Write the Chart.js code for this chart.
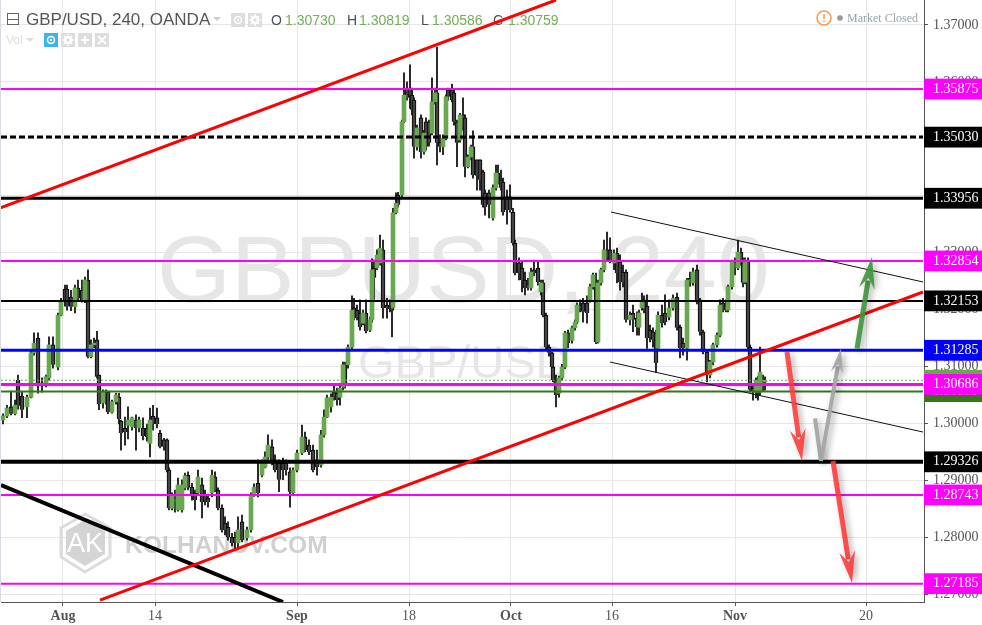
<!DOCTYPE html>
<html>
<head>
  <meta name="viewport" content="width=device-width, initial-scale=1.0">
  <title>GBP/USD 240</title>
  <script src="https://cdn.jsdelivr.net/npm/chart.js"></script>
  <style>
    html, body {
      margin: 0;
      padding: 0;
      background-color: #fff;
    }

    #wrap {
      position: relative;
      width: 982px;
      height: 625px;
    }

    canvas {
      display: block;
    }
  </style>
</head>
<body>
  <div id="wrap"><canvas id="myChart"></canvas></div>

  <script>
    // bar time position along the x axis, one value per candle
    const candleX = [
      3,7,11,15,18,22,27,31,34,38,
      42,46,49,53,58,61,65,67,71,75,
      78,82,85,88,91,94,97,99,103,106,
      108,112,116,119,121,125,128,132,136,139,
      143,147,150,153,157,160,164,167,169,172,
      175,178,182,185,188,192,195,198,202,205,
      208,212,215,218,222,225,228,232,235,238,
      242,247,251,254,258,262,265,268,272,275,
      279,283,286,290,293,297,302,305,309,313,
      317,321,324,327,331,334,337,340,343,345,
      348,352,354,357,360,363,366,370,372,374,
      377,380,383,387,390,392,393,396,398,402,
      404,407,410,412,414,417,421,424,426,429,
      432,435,437,440,443,446,448,452,454,457,
      460,463,465,468,471,473,477,480,483,485,
      489,493,496,498,501,503,507,510,513,515,
      519,522,525,528,531,534,538,541,543,546,
      549,552,553,556,559,562,565,568,572,575,
      577,580,583,587,590,593,596,598,601,604,
      607,610,614,617,620,623,626,630,633,637,
      639,642,644,647,650,653,656,658,662,665,
      669,673,677,680,683,687,690,693,697,700,
      703,707,710,713,717,720,723,726,728,732,
      735,738,741,743,745,748,750,753,756,758,
      760,763,765
    ];

    const opens = [
      1.3006,1.3013,1.3029,1.3017,1.3076,1.3048,1.3029,1.3046,1.3124,1.3150,
      1.3071,1.3067,1.3080,1.3138,1.3099,1.3190,1.3236,1.3236,1.3222,1.3205,
      1.3238,1.3234,1.3217,1.3252,1.3117,1.3138,1.3147,1.3085,1.3036,1.3055,
      1.3055,1.3020,1.3038,1.3046,1.3004,1.2992,1.2997,1.2994,1.3006,1.2992,
      1.2992,1.2992,1.2965,1.3013,1.3010,1.2983,1.2971,1.2971,1.2918,1.2851,
      1.2869,1.2848,1.2848,1.2887,1.2909,1.2888,1.2878,1.2878,1.2892,1.2875,
      1.2869,1.2878,1.2906,1.2883,1.2851,1.2825,1.2818,1.2800,1.2800,1.2790,
      1.2827,1.2799,1.2813,1.2874,1.2895,1.2909,1.2923,1.2941,1.2959,1.2936,
      1.2930,1.2930,1.2930,1.2915,1.2878,1.2918,1.2948,1.2976,1.2962,1.2953,
      1.2936,1.2927,1.2980,1.3011,1.3029,1.3055,1.3053,1.3046,1.3064,1.3103,
      1.3103,1.3134,1.3203,1.3199,1.3194,1.3176,1.3194,1.3164,1.3182,1.3273,
      1.3273,1.3282,1.3305,1.3208,1.3206,1.3205,1.3203,1.3370,1.3401,1.3401,
      1.3530,1.3589,1.3589,1.3577,1.3568,1.3486,1.3537,1.3477,1.3530,1.3530,
      1.3510,1.3565,1.3581,1.3494,1.3486,1.3501,1.3586,1.3586,1.3581,1.3530,
      1.3498,1.3542,1.3537,1.3451,1.3468,1.3486,1.3463,1.3463,1.3442,1.3405,
      1.3405,1.3361,1.3414,1.3440,1.3428,1.3424,1.3398,1.3398,1.3371,1.3317,
      1.3282,1.3273,1.3252,1.3245,1.3238,1.3270,1.3273,1.3231,1.3247,1.3190,
      1.3134,1.3124,1.3099,1.3076,1.3053,1.3080,1.3099,1.3159,1.3146,1.3168,
      1.3178,1.3208,1.3212,1.3212,1.3217,1.3240,1.3247,1.3143,1.3247,1.3270,
      1.3305,1.3305,1.3282,1.3299,1.3284,1.3266,1.3266,1.3182,1.3194,1.3185,
      1.3169,1.3203,1.3217,1.3206,1.3164,1.3161,1.3159,1.3132,1.3190,1.3194,
      1.3187,1.3203,1.3222,1.3169,1.3141,1.3132,1.3255,1.3247,1.3270,1.3217,
      1.3161,1.3125,1.3085,1.3108,1.3138,1.3155,1.3212,1.3208,1.3199,1.3240,
      1.3284,1.3273,1.3301,1.3282,1.3248,1.3287,1.3134,1.3062,1.3055,1.3076,
      1.3055,1.3076,1.30730
    ];

    const highs = [
      1.3017,1.3032,1.3057,1.3041,1.3085,1.3055,1.3050,1.3129,1.3159,1.3159,
      1.3080,1.3085,1.3152,1.3152,1.3194,1.3220,1.3243,1.3243,1.3234,1.3243,
      1.3252,1.3252,1.3257,1.3270,1.3147,1.3150,1.3162,1.3085,1.3059,1.3059,
      1.3057,1.3041,1.3053,1.3053,1.3006,1.3011,1.3029,1.3011,1.3015,1.3011,
      1.3010,1.2999,1.3027,1.3032,1.3027,1.2988,1.2974,1.2973,1.2922,1.2878,
      1.2883,1.2904,1.2901,1.2913,1.2915,1.2895,1.2883,1.2918,1.2904,1.2883,
      1.2876,1.2918,1.2915,1.2887,1.2857,1.2836,1.2827,1.2807,1.2809,1.2836,
      1.2839,1.2818,1.2878,1.2894,1.2936,1.2936,1.2950,1.2980,1.2971,1.2945,
      1.2936,1.2939,1.2936,1.2922,1.2922,1.2953,1.2997,1.2985,1.2971,1.2962,
      1.2953,1.2988,1.3024,1.3050,1.3052,1.3067,1.3062,1.3067,1.3108,1.3108,
      1.3138,1.3224,1.3220,1.3208,1.3217,1.3199,1.3217,1.3187,1.3289,1.3287,
      1.3305,1.3331,1.3322,1.3220,1.3217,1.3226,1.3378,1.3405,1.3406,1.3533,
      1.3616,1.3600,1.3630,1.3589,1.3572,1.3524,1.3542,1.3515,1.3537,1.3533,
      1.3607,1.3589,1.3661,1.3507,1.3507,1.3577,1.3589,1.3596,1.3586,1.3533,
      1.3545,1.3572,1.3542,1.3472,1.3489,1.3514,1.3463,1.3463,1.3445,1.3410,
      1.3410,1.3419,1.3454,1.3454,1.3445,1.3431,1.3410,1.3419,1.3378,1.3322,
      1.3291,1.3284,1.3266,1.3255,1.3273,1.3287,1.3284,1.3252,1.3252,1.3194,
      1.3138,1.3125,1.3103,1.3085,1.3083,1.3104,1.3162,1.3164,1.3171,1.3182,
      1.3212,1.3217,1.3220,1.3224,1.3245,1.3264,1.3264,1.3252,1.3273,1.3322,
      1.3336,1.3326,1.3305,1.3308,1.3296,1.3278,1.3270,1.3196,1.3208,1.3196,
      1.3199,1.3229,1.3224,1.3226,1.3173,1.3168,1.3164,1.3196,1.3208,1.3226,
      1.3217,1.3226,1.3229,1.3173,1.3150,1.3255,1.3266,1.3273,1.3278,1.3220,
      1.3164,1.3129,1.3111,1.3141,1.3159,1.3217,1.3220,1.3217,1.3243,1.3287,
      1.3291,1.3322,1.3308,1.3291,1.3291,1.3291,1.3138,1.3069,1.3080,1.3083,
      1.3134,1.3085,1.30819
    ];

    const lows = [
      1.2999,1.3010,1.3015,1.3015,1.3025,1.3010,1.3010,1.3045,1.3120,1.3053,
      1.3055,1.3064,1.3076,1.3097,1.3094,1.3189,1.3206,1.3199,1.3198,1.3194,
      1.3217,1.3213,1.3212,1.3115,1.3115,1.3133,1.3080,1.3024,1.3027,1.3034,
      1.3017,1.3018,1.3034,1.2999,1.2953,1.2962,1.2973,1.2988,1.2953,1.2985,
      1.2971,1.2969,1.2941,1.2988,1.2992,1.2957,1.2953,1.2915,1.2848,1.2848,
      1.2844,1.2846,1.2844,1.2883,1.2883,1.2865,1.2848,1.2874,1.2834,1.2857,
      1.2853,1.2871,1.2880,1.2848,1.2809,1.2804,1.2795,1.2785,1.2781,1.2781,
      1.2792,1.2795,1.2809,1.2872,1.2871,1.2906,1.2922,1.2937,1.2927,1.2915,
      1.2880,1.2901,1.2909,1.2853,1.2874,1.2915,1.2945,1.2950,1.2945,1.2915,
      1.2909,1.2923,1.2976,1.3010,1.3020,1.3041,1.3032,1.3032,1.3059,1.3062,
      1.3097,1.3131,1.3182,1.3182,1.3164,1.3173,1.3159,1.3161,1.3178,1.3217,
      1.3270,1.3278,1.3185,1.3185,1.3196,1.3152,1.3199,1.3368,1.3380,1.3398,
      1.3528,1.3568,1.3554,1.3542,1.3466,1.3480,1.3466,1.3473,1.3480,1.3487,
      1.3507,1.3561,1.3454,1.3477,1.3472,1.3498,1.3568,1.3565,1.3524,1.3451,
      1.3494,1.3515,1.3433,1.3449,1.3463,1.3431,1.3410,1.3410,1.3380,1.3366,
      1.3361,1.3357,1.3410,1.3421,1.3410,1.3366,1.3350,1.3371,1.3313,1.3261,
      1.3252,1.3231,1.3226,1.3234,1.3234,1.3259,1.3243,1.3226,1.3187,1.3129,
      1.3118,1.3094,1.3073,1.3029,1.3046,1.3076,1.3096,1.3133,1.3141,1.3164,
      1.3175,1.3196,1.3178,1.3176,1.3213,1.3236,1.3140,1.3141,1.3243,1.3266,
      1.3284,1.3282,1.3270,1.3247,1.3234,1.3240,1.3178,1.3173,1.3161,1.3155,
      1.3155,1.3199,1.3194,1.3132,1.3143,1.3134,1.3089,1.3129,1.3169,1.3173,
      1.3182,1.3199,1.3164,1.3115,1.3120,1.3111,1.3241,1.3243,1.3210,1.3155,
      1.3122,1.3073,1.3080,1.3103,1.3134,1.3152,1.3196,1.3196,1.3196,1.3236,
      1.3261,1.3270,1.3278,1.3240,1.3245,1.3131,1.3055,1.3041,1.3045,1.3041,
      1.3050,1.3057,1.30586
    ];

    const closes = [
      1.3013,1.3027,1.3017,1.3032,1.3031,1.3024,1.3046,1.3124,1.3141,1.3071,
      1.3066,1.3082,1.3138,1.3103,1.3190,1.3213,1.3213,1.3206,1.3205,1.3238,
      1.3220,1.3217,1.3252,1.3117,1.3138,1.3141,1.3082,1.3034,1.3055,1.3048,
      1.3020,1.3038,1.3050,1.3008,1.2983,1.2985,1.3006,1.3010,1.2992,1.3006,
      1.2978,1.2976,1.3006,1.2999,1.2999,1.2959,1.2959,1.2918,1.2851,1.2874,
      1.2862,1.2892,1.2892,1.2908,1.2887,1.2876,1.2865,1.2906,1.2862,1.2865,
      1.2862,1.2909,1.2883,1.2851,1.2813,1.2813,1.2800,1.2790,1.2792,1.2813,
      1.2795,1.2813,1.2874,1.2888,1.2878,1.2930,1.2941,1.2962,1.2932,1.2918,
      1.2901,1.2918,1.2918,1.2880,1.2918,1.2948,1.2976,1.2953,1.2950,1.2918,
      1.2923,1.2980,1.3011,1.3045,1.3046,1.3045,1.3041,1.3062,1.3103,1.3067,
      1.3134,1.3199,1.3185,1.3187,1.3169,1.3194,1.3162,1.3182,1.3270,1.3256,
      1.3296,1.3308,1.3203,1.3203,1.3201,1.3199,1.3370,1.3387,1.3384,1.3530,
      1.3577,1.3572,1.3577,1.3551,1.3486,1.3519,1.3477,1.3510,1.3486,1.3493,
      1.3565,1.3581,1.3493,1.3486,1.3501,1.3574,1.3574,1.3568,1.3530,1.3493,
      1.3542,1.3521,1.3451,1.3468,1.3486,1.3436,1.3435,1.3428,1.3384,1.3380,
      1.3384,1.3414,1.3440,1.3424,1.3414,1.3371,1.3375,1.3375,1.3317,1.3264,
      1.3264,1.3252,1.3238,1.3238,1.3266,1.3264,1.3248,1.3247,1.3190,1.3134,
      1.3124,1.3099,1.3076,1.3050,1.3080,1.3099,1.3159,1.3141,1.3168,1.3178,
      1.3208,1.3203,1.3196,1.3194,1.3240,1.3261,1.3143,1.3247,1.3270,1.3305,
      1.3291,1.3287,1.3299,1.3264,1.3248,1.3248,1.3182,1.3190,1.3182,1.3169,
      1.3194,1.3213,1.3199,1.3150,1.3152,1.3147,1.3106,1.3190,1.3176,1.3178,
      1.3203,1.3220,1.3168,1.3132,1.3132,1.3252,1.3247,1.3266,1.3213,1.3161,
      1.3125,1.3085,1.3108,1.3138,1.3155,1.3208,1.3199,1.3199,1.3240,1.3284,
      1.3273,1.3301,1.3282,1.3247,1.3287,1.3134,1.3059,1.3055,1.3076,1.3055,
      1.3090,1.3067,1.30759
    ];

    const xTickValues = [63, 155, 297, 409, 511, 612, 735, 866];
    const xTickLabels = ['Aug', '14', 'Sep', '18', 'Oct', '16', 'Nov', '20'];
    const monthLabels = ['Aug', 'Sep', 'Oct', 'Nov'];

    const priceTicks = [1.27, 1.28, 1.29, 1.30, 1.31, 1.32, 1.33, 1.34, 1.35, 1.36, 1.37];

    // drawn in this order, later labels cover earlier ones
    const levelValues = [1.30559, 1.30759, 1.27185, 1.28743, 1.29326, 1.31285, 1.32153, 1.32854, 1.33956, 1.35030, 1.35875, 1.30686];
    const levelColors = ['#38761d', '#6aa84f', '#ff00ff', '#ff00ff', '#000000', '#0000ff', '#000000', '#ff00ff', '#000000', '#000000', '#ff00ff', '#ff00ff'];
    const levelWidths = [2, 1, 2, 2, 4, 3, 2, 2, 3, 3, 2, 3];
    const levelDashes = [[], [2, 2], [], [], [], [], [], [], [], [6, 3], [], []];

    // trend lines: start time, start price, end time, end price
    const trendX0 = [0, 100, 1, 611, 610];
    const trendP0 = [1.33785, 1.26897, 1.28918, 1.33714, 1.31079];
    const trendX1 = [556, 923, 283, 923, 923];
    const trendP1 = [1.37439, 1.32309, 1.26863, 1.32485, 1.29849];
    const trendColors = ['#ff0000', '#ff0000', '#000000', '#111111', '#111111'];
    const trendWidths = [3, 3, 4, 1, 1];

    // hand drawn projection arrows
    const arrowX0 = [787, 821, 857, 833];
    const arrowP0 = [1.31255, 1.29340, 1.31315, 1.29340];
    const arrowX1 = [802, 841, 872, 852];
    const arrowP1 = [1.29340, 1.31315, 1.32924, 1.27196];
    const arrowColors = ['rgba(255,60,60,0.88)', 'rgba(165,165,165,0.95)', 'rgba(60,150,60,0.9)', 'rgba(255,60,60,0.9)'];
    const arrowHeadLen = [32, 24, 32, 32];

    // short grey stroke left of the grey arrow foot
    const strokeX = [815, 821];
    const strokeP = [1.30089, 1.29340];

    const ohlcLetters = ['O', 'H', 'L', 'C'];
    const ohlcValues = ['1.30730', '1.30819', '1.30586', '1.30759'];

    const upBars = [];
    const downBars = [];
    const wicks = [];
    candleX.forEach((x, i) => {
      wicks.push({ x: x, y: [lows[i], highs[i]] });
      if (closes[i] >= opens[i]) {
        upBars.push({ x: x, y: [opens[i], closes[i]] });
      } else {
        downBars.push({ x: x, y: [closes[i], opens[i]] });
      }
    });

    const levelSets = levelValues.map((v, i) => ({
      type: 'line',
      data: [{ x: 1, y: v }, { x: 923, y: v }],
      borderColor: levelColors[i],
      borderWidth: levelWidths[i],
      borderDash: levelDashes[i],
      pointRadius: 0,
      order: 1
    }));

    const trendSets = trendX0.map((x0, i) => ({
      type: 'line',
      data: [{ x: x0, y: trendP0[i] }, { x: trendX1[i], y: trendP1[i] }],
      borderColor: trendColors[i],
      borderWidth: trendWidths[i],
      pointRadius: 0,
      order: 0
    }));

    function arrowHead(ctx, tipX, tipY, ux, uy, len) {
      const nx = -uy;
      const ny = ux;
      const half = len / 4;
      ctx.beginPath();
      ctx.moveTo(tipX, tipY);
      ctx.lineTo(tipX - ux * len + nx * half, tipY - uy * len + ny * half);
      ctx.lineTo(tipX - ux * len * 0.66, tipY - uy * len * 0.66);
      ctx.lineTo(tipX - ux * len - nx * half, tipY - uy * len - ny * half);
      ctx.closePath();
      ctx.fill();
    }

    // the arrows go over everything, with the soft shadow of the original drawing tool
    const arrowsPlugin = {
      id: 'arrows',
      afterDatasetsDraw(chart) {
        const ctx = chart.ctx;
        const xs = chart.scales.x;
        const ys = chart.scales.y;
        ctx.save();
        ctx.shadowColor = 'rgba(0,0,0,0.35)';
        ctx.shadowBlur = 6;
        ctx.shadowOffsetX = 3;
        ctx.shadowOffsetY = 2;

        ctx.strokeStyle = 'rgba(165,165,165,0.95)';
        ctx.lineWidth = 4;
        ctx.beginPath();
        ctx.moveTo(xs.getPixelForValue(strokeX[0]), ys.getPixelForValue(strokeP[0]));
        ctx.lineTo(xs.getPixelForValue(strokeX[1]), ys.getPixelForValue(strokeP[1]));
        ctx.stroke();

        arrowX0.forEach((x0, i) => {
          const ax = xs.getPixelForValue(x0);
          const ay = ys.getPixelForValue(arrowP0[i]);
          const bx = xs.getPixelForValue(arrowX1[i]);
          const by = ys.getPixelForValue(arrowP1[i]);
          const len = Math.hypot(bx - ax, by - ay);
          const ux = (bx - ax) / len;
          const uy = (by - ay) / len;
          ctx.strokeStyle = arrowColors[i];
          ctx.fillStyle = arrowColors[i];
          ctx.lineWidth = i === 1 ? 4 : 5;
          ctx.beginPath();
          ctx.moveTo(ax, ay);
          ctx.lineTo(bx - ux * arrowHeadLen[i] * 0.75, by - uy * arrowHeadLen[i] * 0.75);
          ctx.stroke();
          arrowHead(ctx, bx, by, ux, uy, arrowHeadLen[i]);
        });
        ctx.restore();
      }
    };

    function iconBox(ctx, x, y, w, color) {
      ctx.fillStyle = color;
      ctx.fillRect(x, y, w, w);
    }

    function eye(ctx, cx, cy) {
      ctx.strokeStyle = '#fff';
      ctx.lineWidth = 1.5;
      ctx.beginPath();
      ctx.arc(cx, cy, 3.5, 0, Math.PI * 2);
      ctx.stroke();
      ctx.fillStyle = '#fff';
      ctx.beginPath();
      ctx.arc(cx, cy, 1.2, 0, Math.PI * 2);
      ctx.fill();
    }

    function gear(ctx, cx, cy) {
      ctx.fillStyle = '#fff';
      ctx.beginPath();
      ctx.arc(cx, cy, 4.2, 0, Math.PI * 2);
      ctx.fill();
      ctx.strokeStyle = '#fff';
      ctx.lineWidth = 1.4;
      for (let a = 0; a < 4; a++) {
        const c = Math.cos(a * Math.PI / 4) * 5.8;
        const s = Math.sin(a * Math.PI / 4) * 5.8;
        ctx.beginPath();
        ctx.moveTo(cx - c, cy - s);
        ctx.lineTo(cx + c, cy + s);
        ctx.stroke();
      }
      ctx.fillStyle = '#ddd';
      ctx.beginPath();
      ctx.arc(cx, cy, 1.8, 0, Math.PI * 2);
      ctx.fill();
    }

    function caret(ctx, x, y, color) {
      ctx.fillStyle = color;
      ctx.beginPath();
      ctx.moveTo(x, y);
      ctx.lineTo(x + 8, y);
      ctx.lineTo(x + 4, y + 4);
      ctx.closePath();
      ctx.fill();
    }

    // watermarks and the header all sit under the candles and lines
    const backdropPlugin = {
      id: 'backdrop',
      beforeDatasetsDraw(chart) {
        const ctx = chart.ctx;
        ctx.save();
        ctx.textBaseline = 'alphabetic';
        ctx.textAlign = 'left';
        ctx.fillStyle = '#e6e6e6';
        ctx.font = '95px "Liberation Sans"';
        ctx.fillText('GBPUSD, 240', 157, 302);
        ctx.font = '47px "Liberation Sans"';
        ctx.fillText('GBP/USD', 358, 378);

        ctx.fillStyle = '#d0d0d0';
        ctx.font = 'bold 24.6px "Liberation Sans"';
        ctx.fillText('KOLHANOV.COM', 125, 553);

        const hex = [[85, 514], [110, 528], [110, 557], [85, 572], [61, 557], [61, 528]];
        ctx.strokeStyle = '#dcdcdc';
        ctx.lineWidth = 3;
        ctx.beginPath();
        hex.forEach((p, i) => (i ? ctx.lineTo(p[0], p[1]) : ctx.moveTo(p[0], p[1])));
        ctx.closePath();
        ctx.stroke();
        ctx.fillStyle = '#d4d4d4';
        ctx.beginPath();
        const inner = [[85, 520], [105, 531], [105, 554], [85, 566], [66, 554], [66, 531]];
        inner.forEach((p, i) => (i ? ctx.lineTo(p[0], p[1]) : ctx.moveTo(p[0], p[1])));
        ctx.closePath();
        ctx.fill();
        ctx.fillStyle = '#fff';
        ctx.font = '27px "Liberation Sans"';
        ctx.textAlign = 'center';
        ctx.fillText('AK', 85, 552);
        ctx.textAlign = 'left';

        ctx.fillStyle = '#d6dce5';
        ctx.fillRect(0, 0, 1, 602);

        // collapse box + title
        ctx.strokeStyle = '#666';
        ctx.lineWidth = 1;
        ctx.strokeRect(7.5, 13.5, 11, 11);
        ctx.beginPath();
        ctx.moveTo(7.5, 19.5);
        ctx.lineTo(18.5, 19.5);
        ctx.stroke();

        ctx.fillStyle = '#555';
        ctx.font = '17px "Liberation Sans"';
        ctx.fillText('GBP/USD, 240, OANDA', 26, 25);
        caret(ctx, 213, 17, '#ccc');
        iconBox(ctx, 231, 13, 14, '#ddd');
        eye(ctx, 238, 20);
        iconBox(ctx, 248, 13, 14, '#ddd');
        gear(ctx, 255, 20);

        const letterX = [271, 347, 421, 493];
        const valueX = [285, 359, 432, 508];
        ctx.font = '14px "Liberation Sans"';
        ohlcLetters.forEach((l, i) => {
          ctx.fillStyle = '#4a5060';
          ctx.fillText(l, letterX[i], 25);
          ctx.fillStyle = '#74ad5a';
          ctx.fillText(ohlcValues[i], valueX[i], 25);
        });

        // volume row
        ctx.fillStyle = '#ddd';
        ctx.font = '12px "Liberation Sans"';
        ctx.fillText('Vol', 6, 44);
        caret(ctx, 26, 38, '#ddd');
        iconBox(ctx, 44, 33, 14, '#3db4e8');
        eye(ctx, 51, 40);
        iconBox(ctx, 61, 33, 14, '#ddd');
        gear(ctx, 68, 40);
        iconBox(ctx, 78, 33, 14, '#ddd');
        iconBox(ctx, 95, 33, 14, '#ddd');
        ctx.strokeStyle = '#fff';
        ctx.lineWidth = 2;
        ctx.beginPath();
        ctx.moveTo(85, 36); ctx.lineTo(85, 44);
        ctx.moveTo(81, 40); ctx.lineTo(89, 40);
        ctx.moveTo(98, 36); ctx.lineTo(106, 44);
        ctx.moveTo(106, 36); ctx.lineTo(98, 44);
        ctx.stroke();

        // market closed badge
        ctx.strokeStyle = '#ff9a4d';
        ctx.lineWidth = 1.5;
        ctx.beginPath();
        ctx.arc(824, 18, 7, 0, Math.PI * 2);
        ctx.stroke();
        ctx.fillStyle = '#ff9a4d';
        ctx.fillRect(823.3, 14, 1.5, 5);
        ctx.fillRect(823.3, 20.5, 1.5, 1.5);
        ctx.fillStyle = '#999';
        ctx.beginPath();
        ctx.arc(840, 18, 2.8, 0, Math.PI * 2);
        ctx.fill();
        ctx.fillStyle = '#9aa3b0';
        ctx.font = '12px "Liberation Serif"';
        ctx.fillText('Market Closed', 847, 22);
        ctx.restore();
      }
    };

    function isLevel(c) {
      return !!c.tick && levelValues.includes(c.tick.value);
    }

    const ctx = document.getElementById('myChart').getContext('2d');
    const chart = new Chart(ctx, {
      type: 'bar',
      data: {
        datasets: trendSets.concat(levelSets, [
          {
            label: 'up',
            data: upBars,
            backgroundColor: '#6aa84f',
            borderWidth: 0,
            barThickness: 4,
            grouped: false,
            order: 2
          },
          {
            label: 'down',
            data: downBars,
            backgroundColor: '#444',
            borderColor: '#000',
            borderWidth: 1,
            barThickness: 4,
            grouped: false,
            order: 3
          },
          {
            label: 'wick',
            data: wicks,
            backgroundColor: '#000',
            borderWidth: 0,
            barThickness: 1,
            grouped: false,
            order: 4
          }
        ])
      },
      options: {
        responsive: true,
        maintainAspectRatio: false,
        animation: false,
        layout: { padding: { left: 1 } },
        plugins: {
          legend: { display: false },
          tooltip: { enabled: false }
        },
        scales: {
          x: {
            type: 'linear',
            offset: false,
            min: 1,
            max: 924,
            afterBuildTicks(scale) {
              scale.ticks = xTickValues.map(v => ({ value: v }));
            },
            afterFit(scale) {
              scale.height = 23;
              scale.paddingLeft = 0;
              scale.paddingRight = 0;
            },
            grid: {
              offset: false,
              color: '#e6e6e6',
              tickColor: '#555',
              tickLength: 4
            },
            border: { color: '#555' },
            ticks: {
              autoSkip: false,
              maxRotation: 0,
              padding: 2,
              color: '#555',
              font(c) {
                const label = c.tick ? xTickLabels[xTickValues.indexOf(c.tick.value)] : '';
                return { family: '"Liberation Serif"', size: 14, weight: monthLabels.includes(label) ? 'bold' : 'normal' };
              },
              callback(value) {
                return xTickLabels[xTickValues.indexOf(value)];
              }
            }
          },
          y: {
            position: 'right',
            min: 1.26863,
            max: 1.37439,
            afterBuildTicks(scale) {
              scale.ticks = priceTicks.concat(levelValues).map(v => ({ value: v }));
            },
            afterFit(scale) {
              scale.width = 58;
              scale.paddingTop = 0;
              scale.paddingBottom = 0;
            },
            grid: {
              color(c) {
                return isLevel(c) ? 'rgba(0,0,0,0)' : '#e6e6e6';
              },
              tickColor: '#555',
              tickLength: 4
            },
            border: { color: '#555' },
            ticks: {
              autoSkip: false,
              padding: 5,
              font: { family: '"Liberation Serif"', size: 14 },
              color(c) {
                return isLevel(c) ? '#fff' : '#555';
              },
              showLabelBackdrop(c) {
                return isLevel(c);
              },
              backdropColor(c) {
                return isLevel(c) ? levelColors[levelValues.indexOf(c.tick.value)] : 'rgba(0,0,0,0)';
              },
              backdropPadding: { left: 9, right: 5, top: 2, bottom: 2 },
              callback(value) {
                return value.toFixed(5);
              }
            }
          }
        }
      },
      plugins: [backdropPlugin, arrowsPlugin]
    });
  </script>
</body>
</html>
